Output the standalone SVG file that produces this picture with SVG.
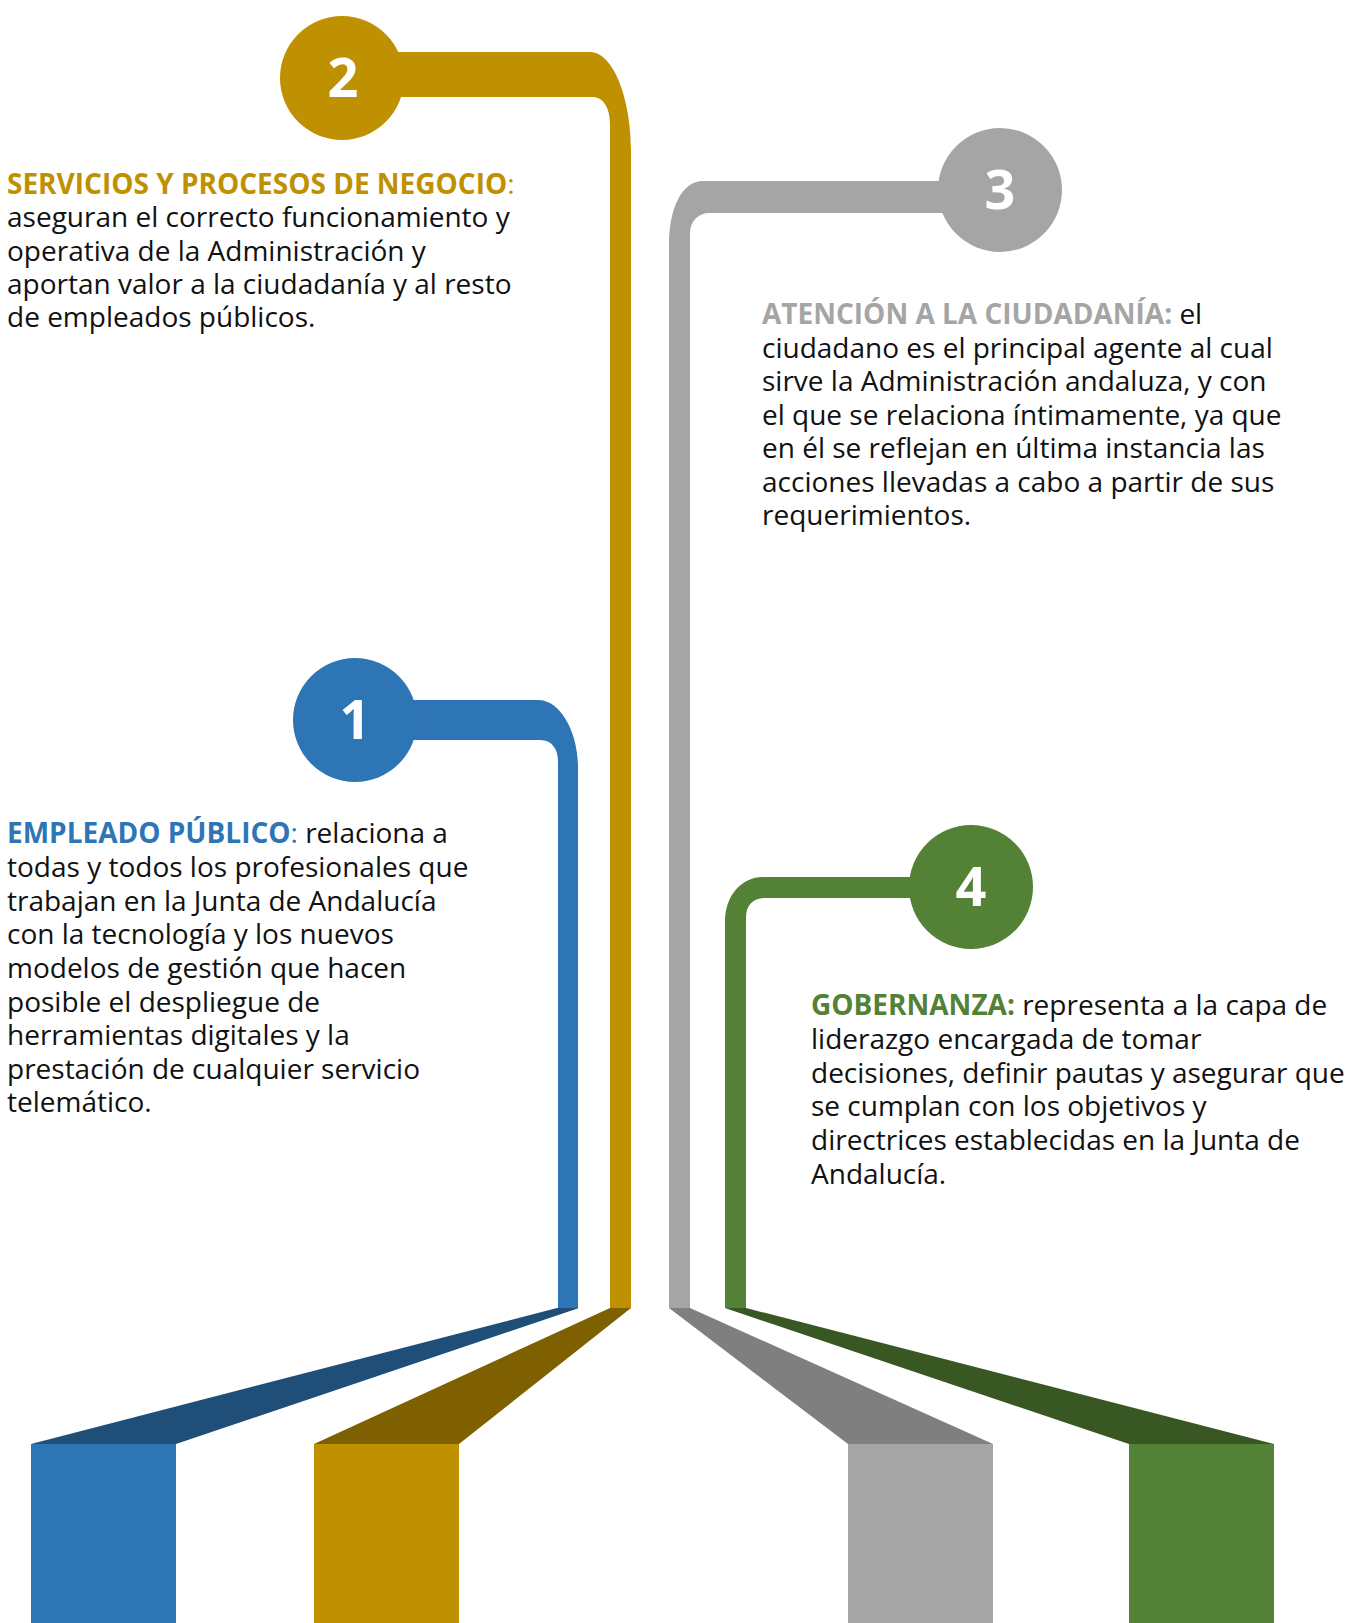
<svg xmlns="http://www.w3.org/2000/svg" width="1349" height="1623" viewBox="0 0 1349 1623">
<style>
text{font-family:"Open Sans","Noto Sans","DejaVu Sans",sans-serif;font-size:28px;fill:#111}
.h{font-weight:700}
.num{font-size:54px;font-weight:700;fill:#fff;text-anchor:middle}
.blue{fill:#2E75B6}.blueD{fill:#1F4E79}
.gold{fill:#BF9000}.goldD{fill:#7F6000}
.gray{fill:#A5A5A5}.grayD{fill:#7F7F7F}
.green{fill:#538135}.greenD{fill:#385723}
</style>
<rect width="1349" height="1623" fill="#fff"/>
<g id="connectors">
<path class="blue" d="M355,700 H538 C561,700 578,733 578,767 V1308 H558 V762 C558,749 552,740 540,740 H355 Z"/>
<path class="gold" d="M342,52 H590 C613,52 631,98 631,150 V1308 H610 V125 C610,107 603,97 592,97 H342 Z"/>
<path class="gray" d="M1000,181 H703 C682,181 669,208 669,245 V1308 H690 V234 C690,221 698,213 710,213 H1000 Z"/>
<path class="green" d="M970,877 H763 C741,877 725,896 725,922 V1308 H746 V918 C746,905 753,898 765,898 H970 Z"/>
<polygon class="blueD" points="557,1308 579,1308 176,1444 31,1444"/>
<polygon class="goldD" points="610,1308 631,1308 459,1444 314,1444"/>
<polygon class="grayD" points="669,1308 690,1308 993,1444 848,1444"/>
<polygon class="greenD" points="725,1308 746,1308 1274,1444 1129,1444"/>
<rect class="blue" x="31" y="1444" width="145" height="179"/>
<rect class="gold" x="314" y="1444" width="145" height="179"/>
<rect class="gray" x="848" y="1444" width="145" height="179"/>
<rect class="green" x="1129" y="1444" width="145" height="179"/>
</g>
<g id="node1">
<circle class="blue" cx="355" cy="720" r="62"/>
<text class="num" x="355" y="739">1</text>
<text x="7" y="843"><tspan class="h blue">EMPLEADO PÚBLICO</tspan><tspan class="blue">:</tspan> relaciona a</text>
<text x="7" y="877">todas y todos los profesionales que</text>
<text x="7" y="911">trabajan en la Junta de Andalucía</text>
<text x="7" y="944">con la tecnología y los nuevos</text>
<text x="7" y="978">modelos de gestión que hacen</text>
<text x="7" y="1012">posible el despliegue de</text>
<text x="7" y="1045">herramientas digitales y la</text>
<text x="7" y="1079">prestación de cualquier servicio</text>
<text x="7" y="1112">telemático.</text>
</g>
<g id="node2">
<circle class="gold" cx="342" cy="78" r="62"/>
<text class="num" x="343" y="97">2</text>
<text x="7" y="194"><tspan class="h gold">SERVICIOS Y PROCESOS DE NEGOCIO</tspan><tspan class="gold">:</tspan></text>
<text x="7" y="227">aseguran el correcto funcionamiento y</text>
<text x="7" y="261">operativa de la Administración y</text>
<text x="7" y="294">aportan valor a la ciudadanía y al resto</text>
<text x="7" y="327">de empleados públicos.</text>
</g>
<g id="node3">
<circle class="gray" cx="1000" cy="190" r="62"/>
<text class="num" x="1000" y="209">3</text>
<text x="762" y="324"><tspan class="h gray">ATENCIÓN A LA CIUDADANÍA:</tspan> el</text>
<text x="762" y="357.5">ciudadano es el principal agente al cual</text>
<text x="762" y="391">sirve la Administración andaluza, y con</text>
<text x="762" y="424.5">el que se relaciona íntimamente, ya que</text>
<text x="762" y="458">en él se reflejan en última instancia las</text>
<text x="762" y="491.5">acciones llevadas a cabo a partir de sus</text>
<text x="762" y="525">requerimientos.</text>
</g>
<g id="node4">
<circle class="green" cx="971" cy="887" r="62"/>
<text class="num" x="971" y="906">4</text>
<text x="811" y="1015"><tspan class="h green">GOBERNANZA:</tspan> representa a la capa de</text>
<text x="811" y="1049">liderazgo encargada de tomar</text>
<text x="811" y="1083">decisiones, definir pautas y asegurar que</text>
<text x="811" y="1116">se cumplan con los objetivos y</text>
<text x="811" y="1150">directrices establecidas en la Junta de</text>
<text x="811" y="1184">Andalucía.</text>
</g>
</svg>
